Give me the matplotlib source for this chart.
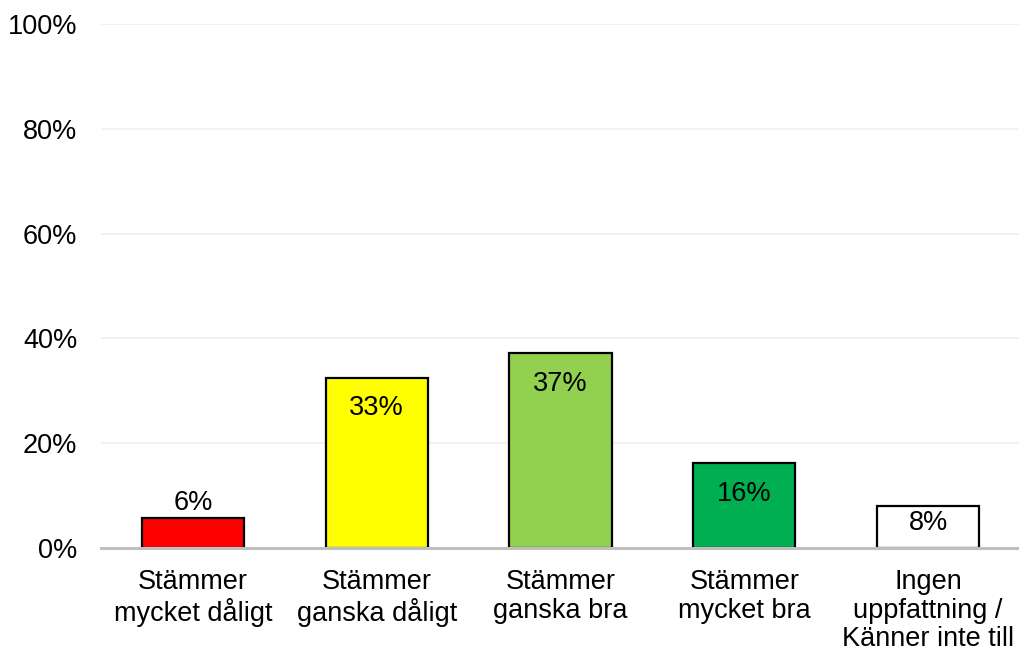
import matplotlib.pyplot as plt
import numpy as np

plt.rcParams['font.family'] = ['Liberation Sans', 'DejaVu Sans']

categories = ['Stämmer\nmycket dåligt', 'Stämmer\nganska dåligt', 'Stämmer\nganska bra',
              'Stämmer\nmycket bra', 'Ingen\nuppfattning /\nKänner inte till']
values = [5.7, 32.5, 37.2, 16.2, 8.0]
labels = ['6%', '33%', '37%', '16%', '8%']
colors = ['#ff0000', '#ffff00', '#92d050', '#00b050', '#ffffff']

# label offsets in points relative to bar top (positive = above)
label_offsets = [11, -22, -22, -22, -12.5]

fig = plt.figure(figsize=(10.19, 6.56), dpi=100)
ax = fig.add_axes([101 / 1019, 1 - 548 / 656, 919 / 1019, 524 / 656])

x = np.arange(len(categories))
bars = ax.bar(x, values, width=0.555, color=colors, edgecolor='black', linewidth=1.6, zorder=3)

for bar, lab, off in zip(bars, labels, label_offsets):
    h = bar.get_height()
    ax.annotate(lab, (bar.get_x() + bar.get_width() / 2, h), xytext=(0, off),
                textcoords='offset points', ha='center', va='center', fontsize=19.5, zorder=4)

ax.set_xlim(-0.5, len(categories) - 0.5)
ax.set_ylim(0, 100)
ax.set_yticks(range(0, 101, 20))
ax.set_yticklabels(['%d%%' % v for v in range(0, 101, 20)])
ax.set_xticks(x)
ax.set_xticklabels(categories, fontsize=19.5, linespacing=1.14)
ax.tick_params(axis='y', length=0, pad=17, labelsize=19.5)
ax.tick_params(axis='x', length=0, pad=15)

ax.yaxis.grid(True, color='#f0f0f0', linewidth=1.2, zorder=0)
for s in ['top', 'right', 'left']:
    ax.spines[s].set_visible(False)
ax.spines['bottom'].set_color('#bfbfbf')
ax.spines['bottom'].set_linewidth(2.2)
ax.spines['bottom'].set_zorder(5)

fig.savefig('out.png', dpi=100)
